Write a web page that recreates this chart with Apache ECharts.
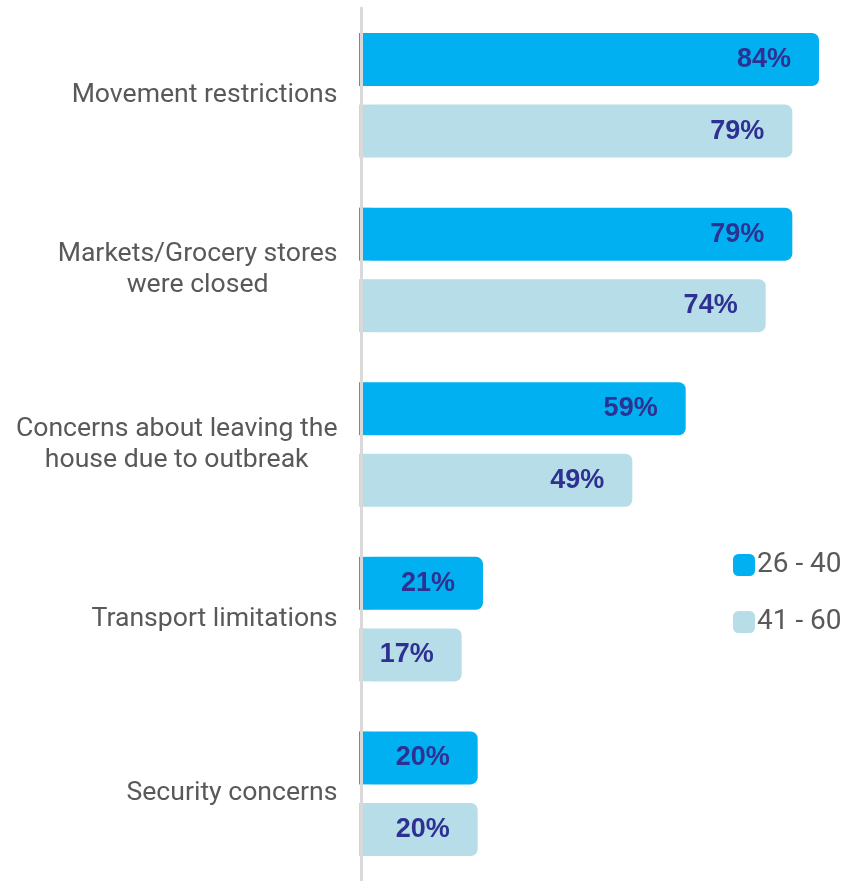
<!DOCTYPE html>
<html>
<head>
<meta charset="utf-8">
<script src="https://cdn.jsdelivr.net/npm/echarts@6/dist/echarts.min.js"></script>
<style>
html,body{margin:0;padding:0;background:#fff;}
#chart{width:849px;height:881px;}
</style>
</head>
<body>
<div id="chart"></div>
<script>
const categories = [
  'Movement restrictions',
  'Markets/Grocery stores\nwere closed',
  'Concerns about leaving the\nhouse due to outbreak',
  'Transport limitations',
  'Security concerns'
];
const seriesNames = ['26 - 40', '41 - 60'];
const age26to40 = [84, 79, 59, 21, 20];
const age41to60 = [79, 74, 49, 17, 20];

// visual lead-in of each bar to the left of the zero line (style only)
const BAR_LEAD = -2.25;
const leadValues = categories.map(() => BAR_LEAD);

const colors = ['#00B0F0', '#B7DEE8'];
const labelColor = '#2E3192';

function valueSeries(name, data, color, stack) {
  return {
    name: name,
    type: 'bar',
    stack: stack,
    data: data,
    barWidth: 53,
    barGap: '35%',
    itemStyle: { color: color, borderRadius: [0, 7, 7, 0] },
    label: {
      show: true,
      position: 'insideRight',
      distance: 28,
      formatter: '{c}%',
      color: labelColor,
      fontSize: 27,
      fontWeight: 'bold',
      fontFamily: 'Liberation Sans, Arial, sans-serif'
    },
    emphasis: { disabled: true },
    z: 2
  };
}
function leadSeries(name, color, stack) {
  return {
    name: name,
    type: 'bar',
    stack: stack,
    data: leadValues,
    barWidth: 53,
    barGap: '35%',
    itemStyle: { color: color },
    silent: true,
    emphasis: { disabled: true },
    z: 2
  };
}

const chart = echarts.init(document.getElementById('chart'), null, { renderer: 'canvas' });
chart.setOption({
  animation: false,
  backgroundColor: '#ffffff',
  grid: { left: 359, width: 481.33, top: 8, bottom: -2, containLabel: false },
  legend: {
    data: seriesNames,
    orient: 'vertical',
    left: 728,
    top: 546,
    itemWidth: 22,
    itemHeight: 22,
    itemGap: 29,
    icon: 'roundRect',
    selectedMode: false,
    textStyle: {
      color: '#595959',
      fontSize: 28,
      lineHeight: 22,
      fontFamily: 'Roboto, sans-serif',
      padding: [0, 0, 0, -3]
    }
  },
  xAxis: {
    type: 'value',
    min: BAR_LEAD,
    max: 88,
    show: false,
    splitLine: { show: false }
  },
  yAxis: {
    type: 'category',
    data: categories,
    inverse: true,
    offset: -2.5,
    z: 10,
    axisTick: { show: false },
    axisLine: { show: true, onZero: false, lineStyle: { color: '#D9D9D9', width: 3 } },
    axisLabel: {
      margin: 24,
      color: '#595959',
      fontSize: 26.6,
      fontFamily: 'Roboto, sans-serif',
      lineHeight: 31,
      formatter: function (v) {
        return v.split('\n').map(function (s) { return '{c|' + s + '}'; }).join('\n');
      },
      rich: {
        c: { align: 'center', color: '#595959', fontSize: 26.6, fontFamily: 'Roboto, sans-serif', lineHeight: 31 }
      }
    }
  },
  series: [
    leadSeries('lead1', colors[0], 'a'),
    valueSeries(seriesNames[0], age26to40, colors[0], 'a'),
    leadSeries('lead2', colors[1], 'b'),
    valueSeries(seriesNames[1], age41to60, colors[1], 'b')
  ]
});
</script>
</body>
</html>
